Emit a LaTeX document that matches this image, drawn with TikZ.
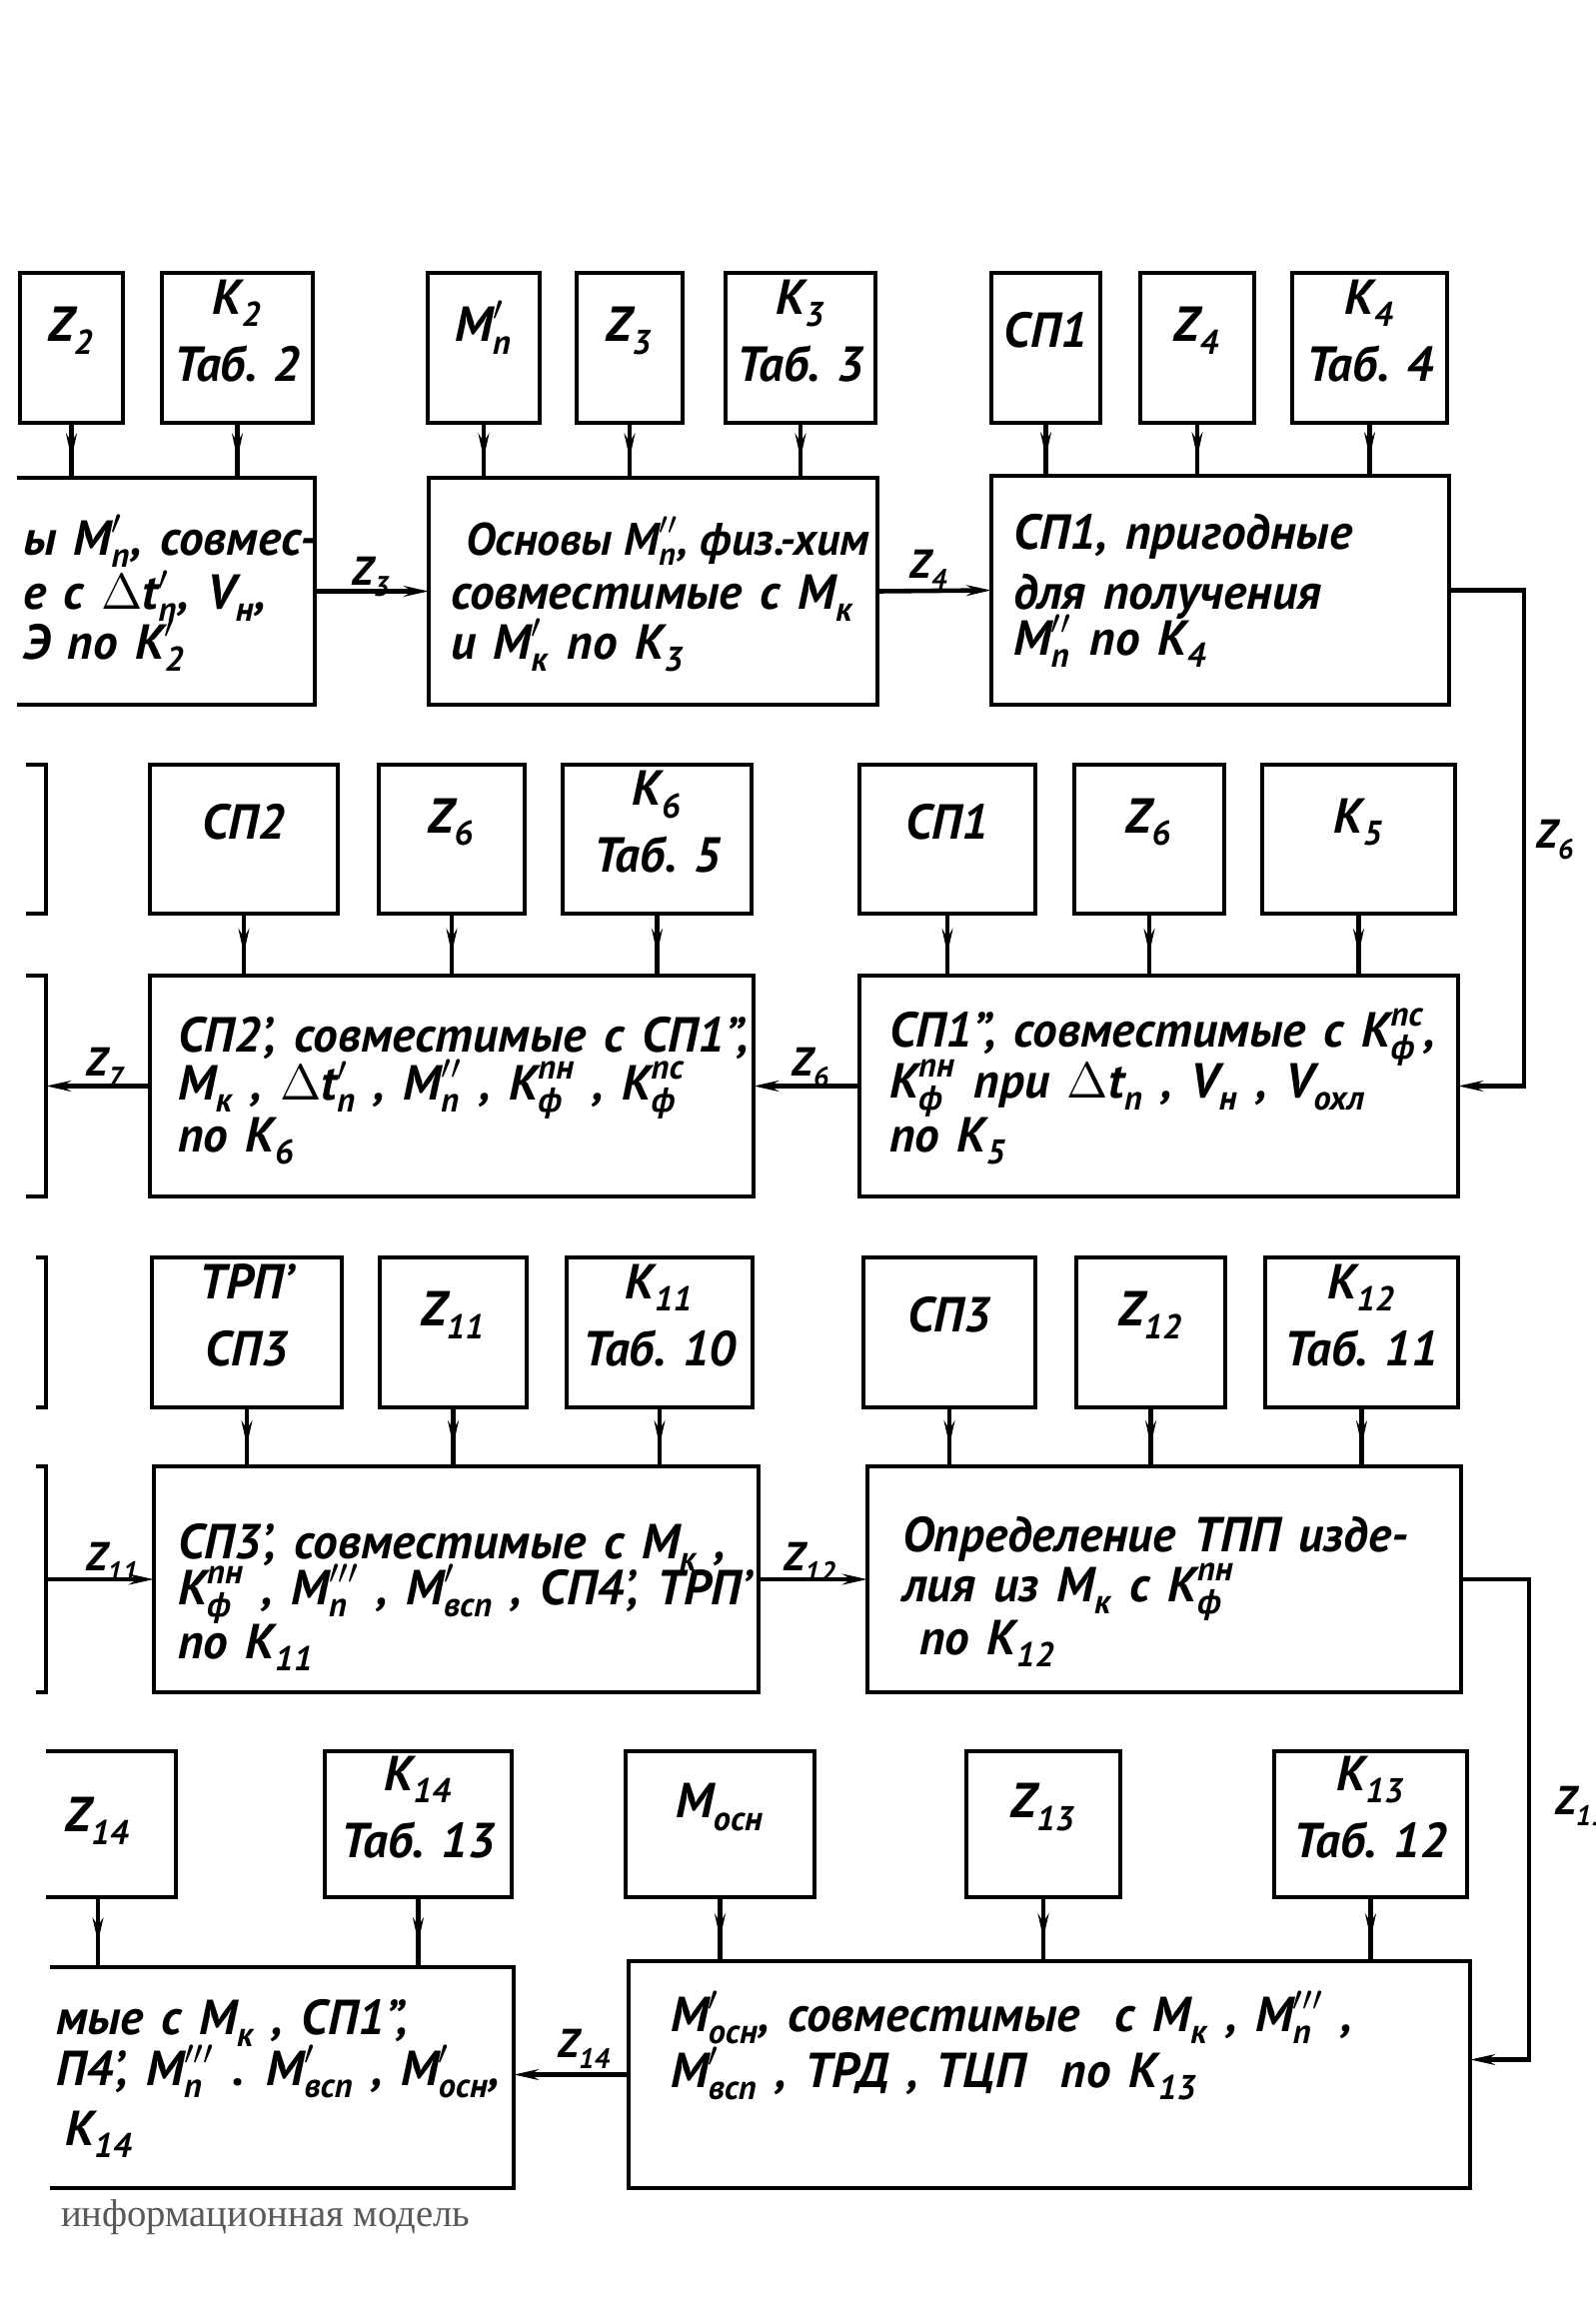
\documentclass[tikz,border=0pt]{standalone}
\usepackage{amsmath}
\usepackage{fontspec}
\setmainfont{PT Sans}
\newfontfamily\capfont{Liberation Serif}
\usetikzlibrary{arrows.meta,decorations.markings,fit}
\newcommand{\hw}{\bfseries\itshape}
\newcommand{\hs}[3]{\ensuremath{\text{#1}_{\text{#2}}^{#3}}}
\newcommand{\mybox}[6]{\node[bx, fit={(#2,#3)(#4,#5)}] (#1) {#6};}
\begin{document}
\begin{tikzpicture}[x=0.01cm,y=-0.01cm,
  every node/.style={inner sep=0pt, outer sep=0pt},
  bx/.style={draw, line width=1.3pt, inner sep=0pt, align=center, font=\hw\fontsize{14}{19}\selectfont},
  ln/.style={anchor=base west, font=\hw\fontsize{14}{16}\selectfont, execute at begin node={\spaceskip=0.36em\relax}},
  lntight/.style={anchor=base west, font=\hw\fontsize{13}{16}\selectfont},
  zl/.style={font=\hw\fontsize{11.5}{13}\selectfont},
  conn/.style={line width=1.3pt},
  varr/.style={conn, postaction={decorate}, decoration={markings, mark=at position 0.65 with {\arrow{Stealth[length=7pt,width=3pt]}}}},
  harr/.style={conn, -{Stealth[length=7pt,width=3pt]}},
]
\useasboundingbox (0,0) rectangle (1597,2314);
\clip (0,0) rectangle (1597,2314);

% ---------- Row 1 ----------
\mybox{zA}{20}{273}{123}{423}{\hs{Z}{2}{}}
\mybox{kA}{162}{273}{313}{423}{\hs{K}{2}{}\\Таб. 2}
\mybox{mA}{428}{273}{540}{423}{\hs{M}{п}{\prime}}
\mybox{zB}{577}{273}{683}{423}{\hs{Z}{3}{}}
\mybox{kB}{726}{273}{876}{423}{\hs{K}{3}{}\\Таб. 3}
\mybox{sC}{992}{273}{1101}{423}{СП1}
\mybox{zC}{1141}{273}{1255}{423}{\hs{Z}{4}{}}
\mybox{kC}{1293}{273}{1448}{423}{\hs{K}{4}{}\\Таб. 4}

\begin{scope}
  \clip (17,0) rectangle (1597,2314);
  \node[bx, fit={(-60,478)(315,705)}] (bA) {};
\end{scope}
\node[bx, fit={(429,478)(878,705)}] (bB) {};
\node[bx, fit={(992,476)(1450,705)}] (bC) {};

\node[ln] (tA1) at (23,555) {ы \hs{M}{п}{\prime}, совмес-};
\node[ln] (tA2) at (23,609) {е с $\Delta$\hs{t}{п}{\prime}, \hs{V}{н}{},};
\node[ln] (tA3) at (23,659) {Э по \hs{K}{2}{\prime}};

\node[lntight] (tB1) at (466,555) {Основы \hs{M}{п}{\prime\prime}, физ.-хим};
\node[ln] (tB2) at (451,609) {совместимые с \hs{M}{к}{}};
\node[ln] (tB3) at (451,659) {и \hs{M}{к}{\prime} по \hs{K}{3}{}};

\node[ln] (tC1) at (1014,549) {СП1, пригодные};
\node[ln] (tC2) at (1014,609) {для получения};
\node[ln] (tC3) at (1014,655) {\hs{M}{п}{\prime\prime} по \hs{K}{4}{}};

\foreach \s/\b in {zA/bA,kA/bA,mA/bB,zB/bB,kB/bB,sC/bC,zC/bC,kC/bC}
  \draw[varr] (\s.south) -- (\s.south |- \b.north);

\draw[harr] (bA.east) -- (bB.west);
\node[zl] (lz3) at (372,577) {\hs{Z}{3}{}};
\draw[harr] (bB.east) -- (bC.west);
\node[zl] (lz4) at (930,570) {\hs{Z}{4}{}};

% ---------- Row 2 ----------
\begin{scope}
  \clip (26,0) rectangle (1597,2314);
  \node[bx, fit={(-100,765)(46,914)}] (qA) {};
  \node[bx, fit={(-100,976)(46,1197)}] (qB) {};
\end{scope}
\mybox{sD}{150}{765}{338}{914}{СП2}
\mybox{zD}{379}{765}{525}{914}{\hs{Z}{6}{}}
\mybox{kD}{563}{765}{752}{914}{\hs{K}{6}{}\\Таб. 5}
\mybox{sE}{860}{765}{1036}{914}{СП1}
\mybox{zE}{1075}{765}{1225}{914}{\hs{Z}{6}{}}
\mybox{kE}{1263}{765}{1456}{914}{\hs{K}{5}{}}

\node[bx, fit={(150,976)(754,1197)}] (bD) {};
\node[bx, fit={(860,976)(1459,1197)}] (bE) {};

\node[ln] (tD1) at (178,1052) {СП2', совместимые с СП1'',};
\node[ln] (tD2) at (178,1100) {\hs{M}{к}{} , $\Delta$\hs{t}{п}{\prime} , \hs{M}{п}{\prime\prime} , \hs{K}{ф}{\text{пн}} , \hs{K}{ф}{\text{пс}}};
\node[ln] (tD3) at (178,1152) {по \hs{K}{6}{}};

\node[ln] (tE1) at (890,1047) {СП1'', совместимые с \hs{K}{ф}{\text{пс}},};
\node[ln] (tE2) at (890,1098) {\hs{K}{ф}{\text{пн}} при $\Delta$\hs{t}{п}{} , \hs{V}{н}{} , \hs{V}{охл}{}};
\node[ln] (tE3) at (890,1152) {по \hs{K}{5}{}};

\foreach \s/\b in {sD/bD,zD/bD,kD/bD,sE/bE,zE/bE,kE/bE}
  \draw[varr] (\s.south) -- (\s.south |- \b.north);

\draw[harr] (bC.east) -- ++(75,0) |- (bE.east);
\node[zl] (lz6r) at (1557,840) {\hs{Z}{6}{}};
\draw[harr] (bE.west) -- (bD.east);
\node[zl] (lz6) at (812,1068) {\hs{Z}{6}{}};
\draw[harr] (bD.west) -- (qB.east);
\node[zl] (lz7) at (106,1068) {\hs{Z}{7}{}};

% ---------- Row 3 ----------
\begin{scope}
  \clip (36,0) rectangle (1597,2314);
  \node[bx, fit={(-100,1258)(46,1408)}] (qC) {};
  \node[bx, fit={(-100,1467)(46,1693)}] (qD) {};
\end{scope}
\mybox{sF}{152}{1258}{342}{1408}{ТРП'\\СП3}
\mybox{zF}{380}{1258}{527}{1408}{\hs{Z}{11}{}}
\mybox{kF}{567}{1258}{753}{1408}{\hs{K}{11}{}\\Таб. 10}
\mybox{sG}{864}{1258}{1036}{1408}{СП3}
\mybox{zG}{1077}{1258}{1226}{1408}{\hs{Z}{12}{}}
\mybox{kG}{1266}{1258}{1459}{1408}{\hs{K}{12}{}\\Таб. 11}

\node[bx, fit={(154,1467)(759,1693)}] (bF) {};
\node[bx, fit={(868,1467)(1462,1693)}] (bG) {};

\node[ln] (tF1) at (178,1559) {СП3', совместимые с \hs{M}{к}{} ,};
\node[ln] (tF2) at (178,1605) {\hs{K}{ф}{\text{пн}} , \hs{M}{п}{\prime\prime\prime} , \hs{M}{всп}{\prime} , СП4', ТРП'};
\node[ln] (tF3) at (178,1659) {по \hs{K}{11}{}};

\node[ln] (tG1) at (903,1552) {Определение ТПП изде-};
\node[ln] (tG2) at (903,1602) {лия из \hs{M}{к}{} с \hs{K}{ф}{\text{пн}}};
\node[ln] (tG3) at (920,1655) {по \hs{K}{12}{}};

\foreach \s/\b in {sF/bF,zF/bF,kF/bF,sG/bG,zG/bG,kG/bG}
  \draw[varr] (\s.south) -- (\s.south |- \b.north);

\draw[harr] (qD.east) -- (bF.west);
\node[zl] (lz11) at (113,1563) {\hs{Z}{11}{}};
\draw[harr] (bF.east) -- (bG.west);
\node[zl] (lz12) at (811,1563) {\hs{Z}{12}{}};

% ---------- Row 4 ----------
\begin{scope}
  \clip (46,0) rectangle (1597,2314);
  \node[bx, fit={(-40,1752)(176,1898)}] (zH) {};
\end{scope}
\node[bx, draw=none] (zHt) at (98,1822) {\hs{Z}{14}{}};
\mybox{kH}{325}{1752}{512}{1898}{\hs{K}{14}{}\\Таб. 13}
\mybox{mI}{626}{1752}{815}{1898}{\hs{M}{осн}{}}
\mybox{zI}{967}{1752}{1121}{1898}{\hs{Z}{13}{}}
\mybox{kI}{1275}{1752}{1468}{1898}{\hs{K}{13}{}\\Таб. 12}

\begin{scope}
  \clip (50,0) rectangle (1597,2314);
  \node[bx, fit={(-40,1968)(514,2189)}] (bH) {};
\end{scope}
\node[bx, fit={(629,1962)(1471,2189)}] (bI) {};

\node[ln] (tH1) at (56,2035) {мые с \hs{M}{к}{} , СП1'',};
\node[ln] (tH2) at (56,2086) {П4', \hs{M}{п}{\prime\prime\prime} . \hs{M}{всп}{\prime} , \hs{M}{осн}{\prime},};
\node[ln] (tH3) at (65,2146) {\hs{K}{14}{}};

\node[ln] (tI1) at (671,2032) {\hs{M}{осн}{\prime}, совместимые \ с \hs{M}{к}{} , \hs{M}{п}{\prime\prime\prime} ,};
\node[ln] (tI2) at (671,2088) {\hs{M}{всп}{\prime} , ТРД , ТЦП \ по \hs{K}{13}{}};

\draw[varr] (zH.south -| zHt.south) -- (zHt.south |- bH.north);
\foreach \s/\b in {kH/bH,mI/bI,zI/bI,kI/bI}
  \draw[varr] (\s.south) -- (\s.south |- \b.north);

\draw[harr] (bG.east) -- ++(68,0) |- ([yshift=0.15cm]bI.east);
\node[zl, anchor=west] (lz13) at (1556,1807) {\hs{Z}{13}{}};
\draw[harr] (bI.west) -- (bI.west -| bH.east);
\node[zl] (lz14) at (585,2050) {\hs{Z}{14}{}};

\node[anchor=west, text=black!65, font=\capfont\fontsize{11}{13}\selectfont] (cap) at (61,2218) {информационная модель};
\end{tikzpicture}
\end{document}
